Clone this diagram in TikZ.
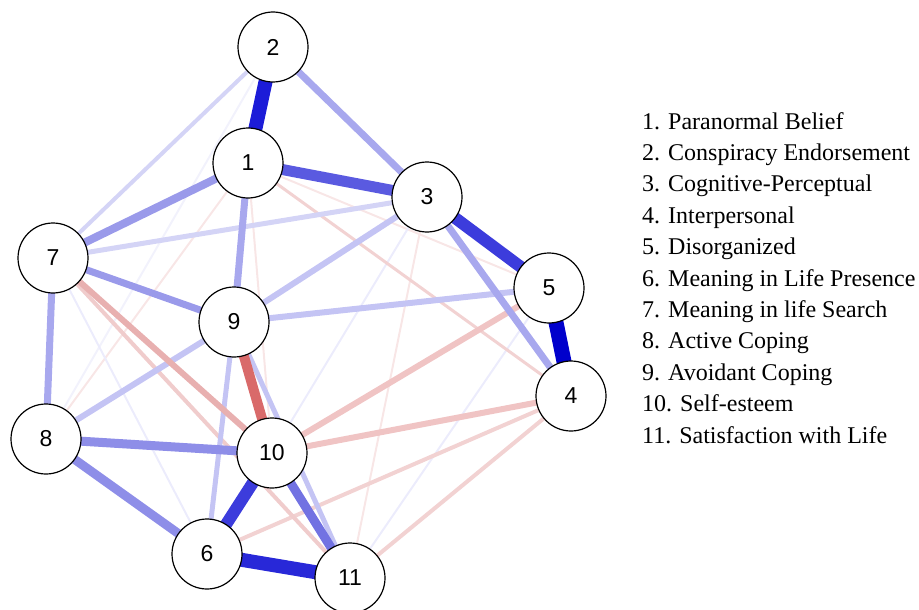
\documentclass[tikz,border=0pt]{standalone}
\usepackage{fontspec}
\setmainfont{Liberation Serif}
\newfontfamily\nodefont{Liberation Sans}
\begin{document}
\begin{tikzpicture}[x=1pt,y=-1pt,
  vnode/.style={circle,draw=black,line width=1.2pt,fill=white,minimum size=70pt,inner sep=0pt,font=\nodefont\fontsize{23}{23}\selectfont},
  legend/.style={anchor=base west,inner sep=0pt,font=\fontsize{24}{26}\selectfont},
  edge/.style={line cap=butt}]
\useasboundingbox (0,0) rectangle (919,610);
\definecolor{bA}{HTML}{1C1CD8}
\definecolor{bB}{HTML}{0000CC}
\definecolor{bC}{HTML}{2828D8}
\definecolor{bD}{HTML}{3C3CDC}
\definecolor{bE}{HTML}{5A5AE0}
\definecolor{bF}{HTML}{7272E2}
\definecolor{bG}{HTML}{8E8EE8}
\definecolor{bH}{HTML}{9A9AEA}
\definecolor{bI}{HTML}{A8A8EE}
\definecolor{bJ}{HTML}{C4C4F4}
\definecolor{bK}{HTML}{D4D4F6}
\definecolor{bL}{HTML}{ECECFC}
\definecolor{bM}{HTML}{F2F2FC}
\definecolor{rA}{HTML}{D96A6A}
\definecolor{rB}{HTML}{E8B0B0}
\definecolor{rC}{HTML}{F0C4C4}
\definecolor{rD}{HTML}{F0CCCC}
\definecolor{rE}{HTML}{F2D2D2}
\definecolor{rF}{HTML}{F8E6E6}
% node coordinates
\coordinate (p1) at (248,163);
\coordinate (p2) at (273,47);
\coordinate (p3) at (427,197);
\coordinate (p4) at (571,396);
\coordinate (p5) at (549,288);
\coordinate (p6) at (207,554);
\coordinate (p7) at (53,258);
\coordinate (p8) at (46,439);
\coordinate (p9) at (234,322);
\coordinate (p10) at (272,453);
\coordinate (p11) at (350,578);
% faint edges
\draw[edge,bM,line width=2] (p2) -- (p8);
\draw[edge,rF,line width=2] (p1) -- (p8);
\draw[edge,rF,line width=2] (p1) -- (p5);
\draw[edge,rF,line width=2] (p1) -- (p10);
\draw[edge,rF,line width=2] (p3) -- (p11);
\draw[edge,bL,line width=2] (p3) -- (p10);
\draw[edge,bL,line width=2] (p5) -- (p11);
\draw[edge,bL,line width=2] (p7) -- (p6);
\draw[edge,rE,line width=3] (p1) -- (p4);
\draw[edge,rE,line width=4] (p6) -- (p4);
\draw[edge,rE,line width=4] (p11) -- (p4);
\draw[edge,rD,line width=4] (p7) -- (p11);
\draw[edge,bK,line width=4] (p2) -- (p7);
\draw[edge,bK,line width=5] (p3) -- (p7);
\draw[edge,bJ,line width=5] (p9) -- (p6);
\draw[edge,bJ,line width=5] (p9) -- (p11);
\draw[edge,bJ,line width=6] (p9) -- (p5);
\draw[edge,bJ,line width=6] (p3) -- (p9);
\draw[edge,bJ,line width=6] (p8) -- (p9);
\draw[edge,rC,line width=6] (p10) -- (p5);
\draw[edge,rC,line width=6] (p10) -- (p4);
\draw[edge,rB,line width=6] (p7) -- (p10);
\draw[edge,bI,line width=7] (p2) -- (p3);
\draw[edge,bI,line width=7] (p1) -- (p9);
\draw[edge,bI,line width=7] (p7) -- (p8);
\draw[edge,bI,line width=7] (p3) -- (p4);
\draw[edge,bH,line width=7] (p7) -- (p9);
\draw[edge,bH,line width=8] (p1) -- (p7);
\draw[edge,bG,line width=9] (p8) -- (p10);
\draw[edge,bG,line width=9] (p8) -- (p6);
\draw[edge,bF,line width=9] (p10) -- (p11);
\draw[edge,rA,line width=10] (p9) -- (p10);
\draw[edge,bE,line width=11] (p1) -- (p3);
\draw[edge,bD,line width=12] (p10) -- (p6);
\draw[edge,bD,line width=12] (p3) -- (p5);
\draw[edge,bA,line width=14] (p1) -- (p2);
\draw[edge,bC,line width=14] (p6) -- (p11);
\draw[edge,bB,line width=15] (p5) -- (p4);
% nodes
\foreach \i in {1,...,11} { \node[vnode] (n\i) at (p\i) {\i}; }
% legend
\node[legend] (l1) at (642,129) {1. Paranormal Belief};
\node[legend] (l2) at (642,160.4) {2. Conspiracy Endorsement};
\node[legend] (l3) at (642,191.8) {3. Cognitive-Perceptual};
\node[legend] (l4) at (642,223.2) {4. Interpersonal};
\node[legend] (l5) at (642,254.6) {5. Disorganized};
\node[legend] (l6) at (642,286) {6. Meaning in Life Presence};
\node[legend] (l7) at (642,317.4) {7. Meaning in life Search};
\node[legend] (l8) at (642,348.8) {8. Active Coping};
\node[legend] (l9) at (642,380.2) {9. Avoidant Coping};
\node[legend] (l10) at (642,411.6) {10. Self-esteem};
\node[legend] (l11) at (642,443) {11. Satisfaction with Life};
\end{tikzpicture}
\end{document}
